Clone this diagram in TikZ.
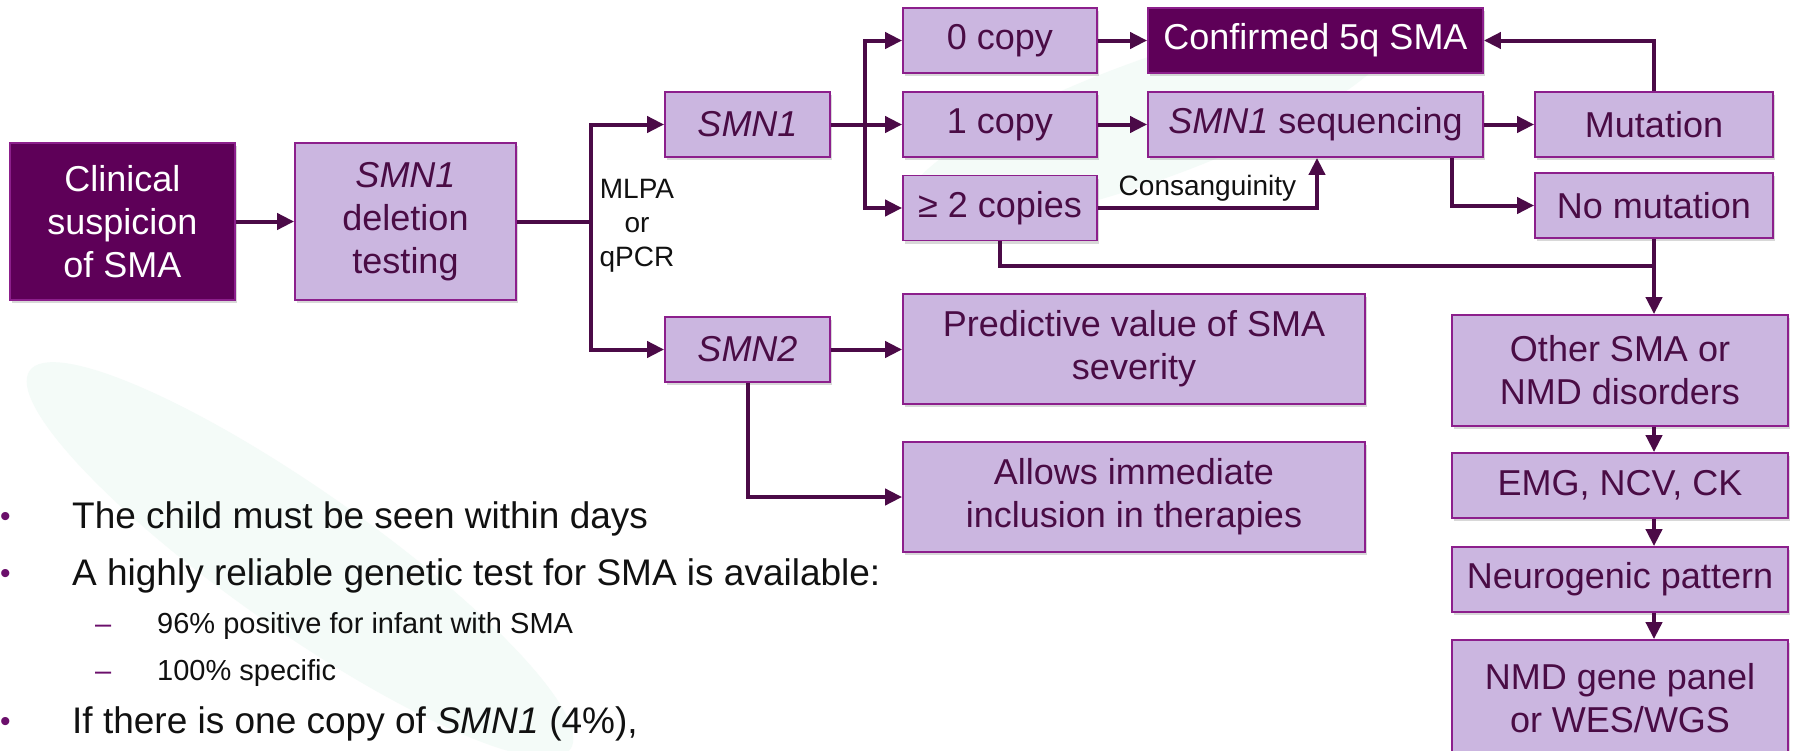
\documentclass[tikz,border=0pt]{standalone}
\usepackage{fontspec}
\setmainfont{Liberation Sans}
\usetikzlibrary{arrows.meta,shadows,calc}
\definecolor{darkbox}{HTML}{5E0058}
\definecolor{lightbox}{HTML}{CBB6E0}
\definecolor{boxborder}{HTML}{8C1F8C}
\definecolor{linecol}{HTML}{4B0A47}
\definecolor{boxtext}{HTML}{4A0C45}
\definecolor{bullcol}{HTML}{6B0F6B}
\definecolor{bodytext}{HTML}{111111}
\definecolor{mint}{HTML}{F4FBF8}
\begin{document}
\begin{tikzpicture}[x=1pt,y=-1pt,
  base/.style={draw=boxborder, line width=1.8pt, inner sep=0pt, align=center,
    font=\fontsize{36}{43}\selectfont,
    drop shadow={shadow xshift=2pt, shadow yshift=-3pt, opacity=0.3}},
  lbox/.style={base, fill=lightbox, text=boxtext},
  dbox/.style={base, fill=darkbox, text=white},
  conn/.style={draw=linecol, line width=4pt},
  arr/.style={conn, -{Triangle[length=17pt,width=16pt]}},
  small/.style={font=\fontsize{28}{34}\selectfont, text=bodytext, inner sep=0pt, align=center},
  btext/.style={font=\fontsize{37}{44}\selectfont, text=bodytext, inner sep=0pt, anchor=base west},
  stext/.style={font=\fontsize{29}{34}\selectfont, text=bodytext, inner sep=0pt, anchor=base west},
  bmark/.style={font=\fontsize{30}{36}\selectfont, text=bullcol, inner sep=0pt, anchor=base west}
]
\fill[white] (0,0) rectangle (1794,750);
\useasboundingbox (0,0) rectangle (1794,750);
% very faint background wash
\fill[mint, rotate around={-35:(300,560)}] (300,560) ellipse (330 and 70);
\fill[mint, rotate around={20:(1150,120)}] (1150,120) ellipse (260 and 60);

% boxes
\node[dbox, minimum width=225, minimum height=157] (clin) at (122.5,221.5) {Clinical\\suspicion\\of SMA};
\node[lbox, minimum width=221, minimum height=157] (del) at (405.5,221.5) {\textit{SMN1}\\deletion\\testing};
\node[lbox, minimum width=165, minimum height=65] (smn1) at (747.5,124.5) {\textit{SMN1}};
\node[lbox, minimum width=165, minimum height=65] (smn2) at (747.5,349.5) {\textit{SMN2}};
\node[lbox, minimum width=194, minimum height=65] (c0) at (1000,40.5) {0 copy};
\node[lbox, minimum width=194, minimum height=65] (c1) at (1000,124.5) {1 copy};
\node[lbox, minimum width=194, minimum height=65] (c2) at (1000,208) {≥ 2 copies};
\node[dbox, minimum width=335, minimum height=65] (conf) at (1315.5,40.5) {Confirmed 5q SMA};
\node[lbox, minimum width=335, minimum height=65] (seq) at (1315.5,124.5) {\textit{SMN1} sequencing};
\node[lbox, minimum width=238, minimum height=65] (mut) at (1654,124.5) {Mutation};
\node[lbox, minimum width=238, minimum height=65] (nomut) at (1654,205.5) {No mutation};
\node[lbox, minimum width=462, minimum height=110] (pred) at (1134,349) {Predictive value of SMA\\severity};
\node[lbox, minimum width=462, minimum height=110] (allow) at (1134,497) {Allows immediate\\inclusion in therapies};
\node[lbox, minimum width=336, minimum height=111] (other) at (1620,370.5) {Other SMA or\\NMD disorders};
\node[lbox, minimum width=336, minimum height=65] (emg) at (1620,485.5) {EMG, NCV, CK};
\node[lbox, minimum width=336, minimum height=65] (neuro) at (1620,579.5) {Neurogenic pattern};
\node[lbox, minimum width=336, minimum height=116] (panel) at (1620,698) {NMD gene panel\\or WES/WGS};

% connectors
\draw[arr] (clin.east) -- (del.west);
\coordinate (sp) at (591,221.5);
\draw[conn] (del.east) -- (sp);
\draw[arr] (sp) |- (smn1.west);
\draw[arr] (sp) |- (smn2.west);
\node[small] (mlpa) at (637,226) {MLPA\\or\\qPCR};

\coordinate (bs) at (865,124.5);
\draw[conn] (smn1.east) -- (bs);
\draw[arr] (bs) |- (c0.west);
\draw[arr] (bs) -- (c1.west);
\draw[arr] (bs) |- (c2.west);

\draw[arr] (smn2.east) -- (pred.west |- smn2.east);
\draw[arr] (smn2.south) |- (allow.west);

\draw[arr] (c0.east) -- (conf.west);
\draw[arr] (c1.east) -- (seq.west);
\draw[arr] (seq.east) -- (mut.west);
\draw[arr] (mut.north) |- (conf.east);

\coordinate (sqx) at (1452,0);
\draw[arr] (seq.south -| sqx) |- (nomut.west);
\coordinate (cx) at (1317,0);
\draw[arr] (c2.east) -| node[pos=0.25, above=5pt, small] (cons) {Consanguinity} (seq.south -| cx);

\coordinate (jn) at (1654,266);
\draw[conn] (c2.south) |- (jn);
\draw[arr] (nomut.south) -- (other.north -| nomut.south);
\draw[arr] (other.south -| nomut.south) -- (emg.north -| nomut.south);
\draw[arr] (emg.south -| nomut.south) -- (neuro.north -| nomut.south);
\draw[arr] (neuro.south -| nomut.south) -- (panel.north -| nomut.south);

% bullet text
\node[bmark] (m1) at (0,526) {•};
\node[btext] (t1) at (72,528) {The child must be seen within days};
\node[bmark] (m2) at (0,583) {•};
\node[btext] (t2) at (72,585) {A highly reliable genetic test for SMA is available:};
\node[stext, text=bullcol] (d1) at (95,633) {–};
\node[stext] (s1) at (157,633) {96\% positive for infant with SMA};
\node[stext, text=bullcol] (d2) at (95,680) {–};
\node[stext] (s2) at (157,680) {100\% specific};
\node[bmark] (m3) at (0,731) {•};
\node[btext] (t3) at (72,733) {If there is one copy of \textit{SMN1} (4\%),};
\end{tikzpicture}
\end{document}
